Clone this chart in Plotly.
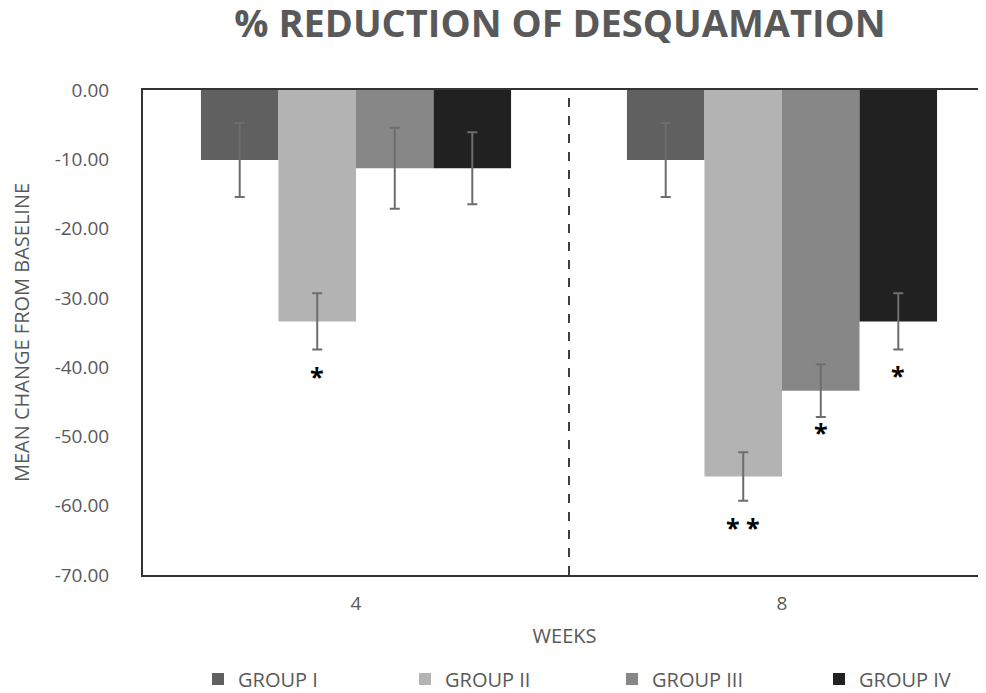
import plotly.graph_objects as go

weeks = ["4", "8"]
groups = ["GROUP I", "GROUP II", "GROUP III", "GROUP IV"]
colors = ["#606060", "#b3b3b3", "#878787", "#212121"]
means = {
    "GROUP I": [-10.1, -10.1],
    "GROUP II": [-33.4, -55.8],
    "GROUP III": [-11.3, -43.4],
    "GROUP IV": [-11.3, -33.4],
}
errors = {
    "GROUP I": [5.35, 5.35],
    "GROUP II": [4.05, 3.5],
    "GROUP III": [5.85, 3.8],
    "GROUP IV": [5.2, 4.05],
}
y_ticks = [0, -10, -20, -30, -40, -50, -60, -70]
y_tick_text = ["%.2f" % v for v in y_ticks]
# significance markers: (week index, group index, label, y position)
sig_labels = [(0, 1, "*", -41.3), (1, 1, "* *", -63.0), (1, 2, "*", -49.3), (1, 3, "*", -41.1)]

FONT = "Open Sans"
GRAY = "#595959"

# page body adds an 8px margin; figure is sized to fit the 986x693 window
W, H = 978, 685
L, T = 135, 82
PW = 843
B = H - (T + 485)

fig = go.Figure()
for g, c in zip(groups, colors):
    fig.add_trace(go.Bar(
        x=weeks, y=means[g], name=g, marker=dict(color=c, line=dict(width=0)),
        error_y=dict(type="data", array=errors[g], visible=True, color="#6d6d6d", thickness=2, width=5),
    ))

bargap = 0.272
n = len(groups)
bw = (1 - bargap) / n
for wi, gi, lab, yv in sig_labels:
    xpos = wi - (1 - bargap) / 2 + bw * (gi + 0.5)
    fig.add_annotation(x=xpos, y=yv, xref="x", yref="y", text="<b>%s</b>" % lab, showarrow=False,
                       font=dict(family=FONT, size=25, color="#000000"), yanchor="middle")

fig.add_shape(type="line", x0=0.5, x1=0.5, xref="x", y0=0, y1=1, yref="paper",
              line=dict(color="#000000", width=1.5, dash="dash"))

fig.update_layout(
    width=W, height=H,
    margin=dict(l=L, r=W - L - PW, t=T, b=B, autoexpand=False),
    paper_bgcolor="white", plot_bgcolor="white",
    barmode="group", bargap=bargap, bargroupgap=0,
    font=dict(family=FONT, color=GRAY),
    title=dict(text="<b>% REDUCTION OF DESQUAMATION</b>", x=(552 - L) / PW, xref="paper",
               xanchor="center", y=1 - 16 / H, yanchor="middle", yref="container",
               font=dict(family=FONT, size=38, color=GRAY)),
    xaxis=dict(type="category", range=[-0.5, -0.5 + PW / 426], showline=True, mirror=True,
               linecolor="#333333", linewidth=2, showgrid=False, ticks="", ticklabelstandoff=10,
               tickfont=dict(size=19, color=GRAY),
               title=dict(text="WEEKS", font=dict(size=20, color=GRAY), standoff=14)),
    yaxis=dict(range=[-70, 0], tickvals=y_ticks, ticktext=y_tick_text, showline=True, linecolor="#333333",
               linewidth=2, showgrid=False, zeroline=False, ticks="", ticklabelstandoff=28,
               tickfont=dict(size=19, color=GRAY),
               title=dict(text="MEAN CHANGE FROM BASELINE", font=dict(size=20, color=GRAY), standoff=29)),
    legend=dict(orientation="h", x=(190 - L) / PW, xanchor="left", y=-(671 - (T + 485)) / 485,
                yanchor="middle", yref="paper", entrywidth=162, entrywidthmode="pixels",
                font=dict(size=20, color=GRAY), traceorder="normal"),
)

fig.write_html("out.html")
